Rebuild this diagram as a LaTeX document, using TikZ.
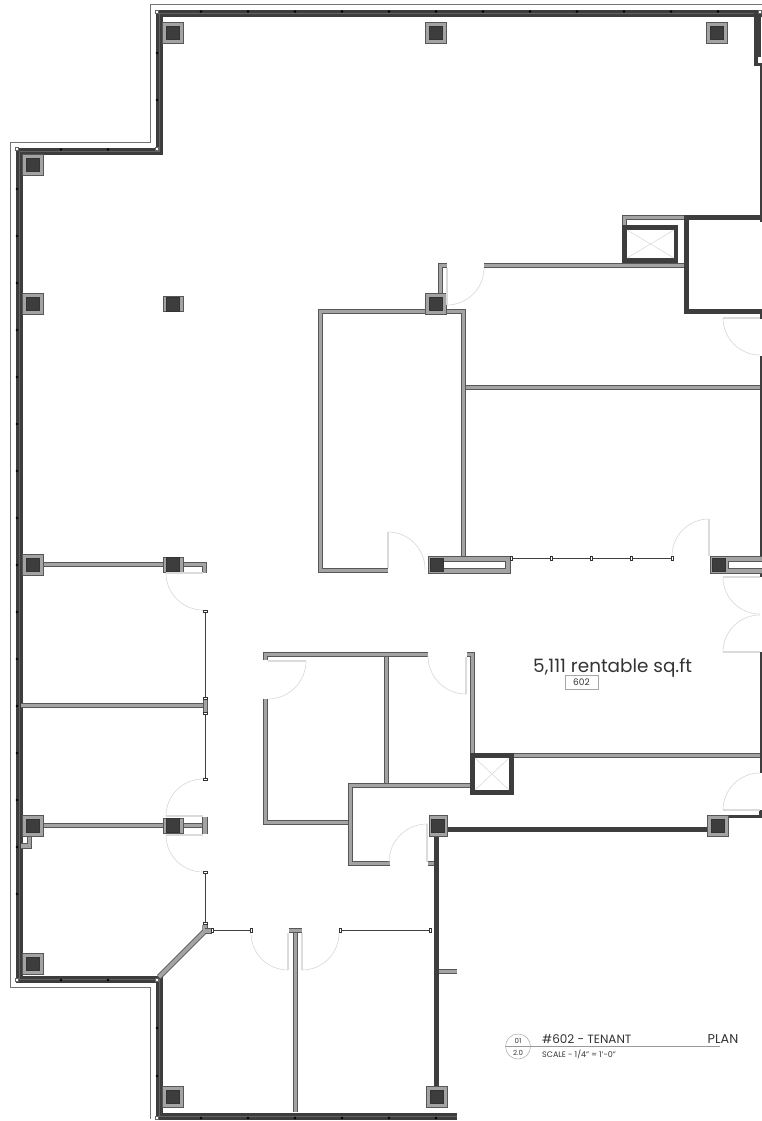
\documentclass[tikz,border=0pt]{standalone}
\usepackage{fontspec}
\setmainfont{Poppins}
\definecolor{wallfill}{gray}{0.64}
\definecolor{wallline}{gray}{0.34}
\definecolor{coredark}{gray}{0.24}
\definecolor{swingline}{gray}{0.86}
\tikzset{
  partition/.style={draw=wallline,line width=0.9pt,double=wallfill,double distance=3.7pt},
  core/.style={draw=coredark,line width=5pt},
  swing/.style={draw=swingline,line width=0.7pt},
  leaf/.style={draw=swingline,line width=1.2pt},
  glazing/.style={draw=black!75,line width=0.9pt},
  capbox/.style={draw=black!80,fill=white,line width=0.6pt},
  colcase/.style={draw=wallline,fill=wallfill,line width=0.6pt},
  colcore/.style={draw=black!80,fill=coredark,line width=0.4pt},
  label/.style={inner sep=0pt,text=black!80},
}
\begin{document}
\begin{tikzpicture}[x=1pt,y=-1pt]
  \useasboundingbox (0,0) rectangle (762,1121);
  % outline of the floor
  \draw[black!55,line width=0.8pt] (762,4.5) -- (150.5,4.5) -- (150.5,142.5) -- (10.5,142.5) -- (10.5,987.5) -- (150.5,987.5) -- (150.5,1119);
  \draw[coredark,line width=7pt] (754,13.5) -- (159,13.5) -- (159,151) -- (19,151) -- (19,979) -- (159,979) -- (159,1116) -- (457,1116);
  \draw[black!62,line width=0.7pt] (754,13.5) -- (159,13.5) -- (159,151) -- (19,151) -- (19,979) -- (159,979) -- (159,1116) -- (457,1116);
  \draw[coredark,line width=7pt] (762,13.5) -- (757.5,13.5) -- (757.5,66);
  \draw[coredark,line width=2.5pt] (761,62) -- (761,222);
  % mullions
  \foreach \x in {201,248,...,760} \fill[black] (\x,11.5) circle (1.4);
  \foreach \y in {53,100} \fill[black] (157,\y) circle (1.4);
  \foreach \x in {61,108} \fill[black] (\x,149.5) circle (1.4);
  \foreach \y in {189,236,...,940} \fill[black] (17,\y) circle (1.4);
  \foreach \x in {61,108} \fill[black] (\x,980) circle (1.4);
  \foreach \y in {1028,1076} \fill[black] (157,\y) circle (1.4);
  \foreach \x in {201,248,...,436} \fill[black] (\x,1118) circle (1.4);
  \foreach \x/\y in {157/11.5,157/149,17/149,17/980,157/980,157/1118,760/11.5}
    \filldraw[fill=white,draw=black!60,line width=0.3pt] (\x-1.5,\y-1.5) rectangle (\x+1.5,\y+1.5);
  \fill[white] (758,57) rectangle (762,63);
  % partitions
  \draw[partition] (388,570.5) -- (320.5,570.5) -- (320.5,311.5) -- (426,311.5);
  \draw[partition] (446,311.5) -- (463.5,311.5) -- (463.5,556);
  \draw[partition] (466,387.5) -- (762,387.5);
  \draw[partition] (484,265.5) -- (684,265.5);
  \draw[partition] (440.5,294) -- (440.5,265.5) -- (447,265.5);
  \draw[partition] (684,217.5) -- (624.5,217.5) -- (624.5,225);
  \draw[partition] (428,654.5) -- (265.5,654.5) -- (265.5,660);
  \draw[partition] (265.5,699) -- (265.5,822.5) -- (348,822.5);
  \draw[partition] (386.5,657) -- (386.5,783);
  \draw[partition] (470,785.5) -- (350.5,785.5) -- (350.5,863.5) -- (390,863.5);
  \draw[partition] (467,654.5) -- (472.5,654.5) -- (472.5,753);
  \draw[partition] (514,755.5) -- (762,755.5);
  \draw[partition] (428,863.5) -- (434,863.5);
  \draw[partition] (439,971.5) -- (457,971.5);
  \draw[partition] (295.5,933) -- (295.5,1112);
  \draw[partition] (289,930.5) -- (302,930.5);
  \draw[partition] (159,977) -- (205,931) -- (205,925);
  \draw[partition] (205,931) -- (212,931);
  \draw[partition] (21,705.5) -- (203,705.5);
  \draw[partition] (205.5,697) -- (205.5,714);
  \draw[partition] (43,564.5) -- (163,564.5);
  \draw[partition] (183,564.5) -- (204.5,564.5) -- (204.5,573);
  \draw[partition] (43,825.5) -- (163,825.5);
  \draw[partition] (183,825.5) -- (204,825.5);
  \draw[partition] (205,817) -- (205,834);
  \draw[partition] (29.5,836) -- (29.5,846) -- (21,846);
  % core walls
  \draw[core] (762,217.5) -- (686.5,217.5) -- (686.5,311.5) -- (762,311.5);
  \draw[core] (447,829.5) -- (708,829.5);
  \draw[core] (436.5,836) -- (436.5,1087);
  \draw[coredark,line width=3.5pt] (728,816.5) -- (760.5,816.5) -- (760.5,810);
  \draw[coredark,line width=2.5pt] (761,313) -- (761,319);
  \draw[coredark,line width=2.5pt] (761,356) -- (761,577);
  \draw[coredark,line width=2.5pt] (761,652) -- (761,773);
  % shafts
  \draw[coredark,line width=4.5pt] (624.5,227.5) rectangle (676,260.5);
  \draw[swingline,line width=0.6pt] (627,230) -- (674,258) (627,258) -- (674,230);
  \draw[coredark,line width=5pt] (472.5,755.5) rectangle (511.5,792.5);
  \draw[swingline,line width=0.6pt] (475,758) -- (509,790) (475,790) -- (509,758);
  % hollow casings
  \filldraw[colcase] (428,556) rectangle (510,573);
  \filldraw[draw=wallline,fill=white,line width=0.6pt] (443,561) rectangle (505,568);
  \filldraw[colcore] (430,558) rectangle (443,571.5);
  \filldraw[colcase] (710,556) rectangle (762,573);
  \filldraw[draw=wallline,fill=white,line width=0.6pt] (728,561) rectangle (762,568);
  \filldraw[colcore] (712,558) rectangle (725,571.5);
  % columns
  \foreach \x/\y in {173/33,436/33,717/33,33/165,33/304,436/304,33/564.5,33/826,33/964,173/1097,436.5/1097,718/825.5} {
    \filldraw[colcase] (\x-10.5,\y-10.5) rectangle (\x+10.5,\y+10.5);
    \filldraw[colcore] (\x-6.5,\y-6.5) rectangle (\x+6.5,\y+6.5);
  }
  \filldraw[colcase] (429,815) rectangle (447,836);
  \filldraw[colcore] (431.5,819) rectangle (444,832);
  \foreach \x/\y in {173/304,173/564.5,173/825.5} {
    \filldraw[colcase] (\x-10,\y-7.5) rectangle (\x+10,\y+7.5);
    \filldraw[colcore] (\x-6.5,\y-7) rectangle (\x+6.5,\y+7);
  }
  % glazing
  \draw[glazing] (205,611) -- (205,698) (205,713) -- (205,779);
  \draw[glazing] (205,872) -- (205,924);
  \draw[glazing] (212,930) -- (251,930);
  \draw[glazing] (340,930) -- (430,930);
  \draw[glazing] (511,558) -- (672,558);
  \foreach \x/\y in {205/611,205/698,205/713,205/779,205/872,205/923}
    \filldraw[capbox] (\x-2,\y-1.2) rectangle (\x+2,\y+1.2);
  \foreach \x/\y in {212/930,251/930,340/930,430/930,511/558,551/558,591/558,631/558,672/558}
    \filldraw[capbox] (\x-1.2,\y-2) rectangle (\x+1.2,\y+2);
  % doors
  \draw[leaf] (447,268) -- (447,305);
  \draw[swing] (447,305) arc[start angle=90,end angle=0,radius=37];
  \draw[leaf] (723,318) -- (760,318);
  \draw[swing] (723,318) arc[start angle=180,end angle=90,radius=37];
  \draw[leaf] (388,532) -- (388,568);
  \draw[swing] (388,532) arc[start angle=-90,end angle=0,radius=37];
  \draw[leaf] (709,519) -- (709,556);
  \draw[swing] (672,556) arc[start angle=180,end angle=270,radius=37];
  \draw[leaf] (723,577) -- (760,577);
  \draw[swing] (723,577) arc[start angle=180,end angle=90,radius=37];
  \draw[leaf] (723,652) -- (760,652);
  \draw[swing] (723,652) arc[start angle=180,end angle=270,radius=37];
  \draw[leaf] (723,810) -- (760,810);
  \draw[swing] (723,810) arc[start angle=180,end angle=270,radius=37];
  \draw[leaf] (166,573) -- (203,573);
  \draw[swing] (166,573) arc[start angle=180,end angle=90,radius=37];
  \draw[leaf] (166,816) -- (203,816);
  \draw[swing] (166,816) arc[start angle=180,end angle=270,radius=37];
  \draw[leaf] (166,835) -- (203,835);
  \draw[swing] (166,835) arc[start angle=180,end angle=90,radius=37];
  \draw[leaf] (268,661) -- (306,661);
  \draw[swing] (306,661) arc[start angle=0,end angle=90,radius=38];
  \draw[leaf] (466,657) -- (466,694);
  \draw[swing] (428,656) arc[start angle=180,end angle=90,radius=38];
  \draw[leaf] (427,824) -- (427,862);
  \draw[swing] (427,824) arc[start angle=-90,end angle=-180,radius=38];
  \draw[leaf] (288,933) -- (288,970);
  \draw[swing] (288,970) arc[start angle=90,end angle=180,radius=37];
  \draw[leaf] (302,933) -- (302,970);
  \draw[swing] (302,970) arc[start angle=90,end angle=0,radius=37];
  % labels
  \node[label,font=\fontsize{18.4}{18.4}\selectfont,anchor=base west] (area) at (533,672) {5,111 rentable sq.ft};
  \node[draw=black!35,line width=0.5pt,label,font=\fontsize{9}{9}\selectfont,minimum width=33pt,minimum height=14pt] (unit) at (581.5,682.5) {602};
  \draw[black!30,line width=0.6pt] (518,1046.5) circle (12.5);
  \node[label,font=\fontsize{7}{7}\selectfont] (sheet) at (518,1040.5) {01};
  \node[label,font=\fontsize{7}{7}\selectfont] (page) at (518,1052.5) {2.0};
  \draw[black!40,line width=0.6pt] (505.5,1046.5) -- (720,1046.5);
  \node[label,font=\fontsize{12}{12}\selectfont,anchor=base west] (title) at (542,1043) {\#602 - TENANT};
  \node[label,font=\fontsize{12.8}{12.8}\selectfont,anchor=base west] (plan) at (707.5,1043) {PLAN};
  \node[label,font=\fontsize{8}{8}\selectfont,anchor=base west] (scale) at (542,1057) {SCALE - 1/4" = 1'-0"};
\end{tikzpicture}
\end{document}
